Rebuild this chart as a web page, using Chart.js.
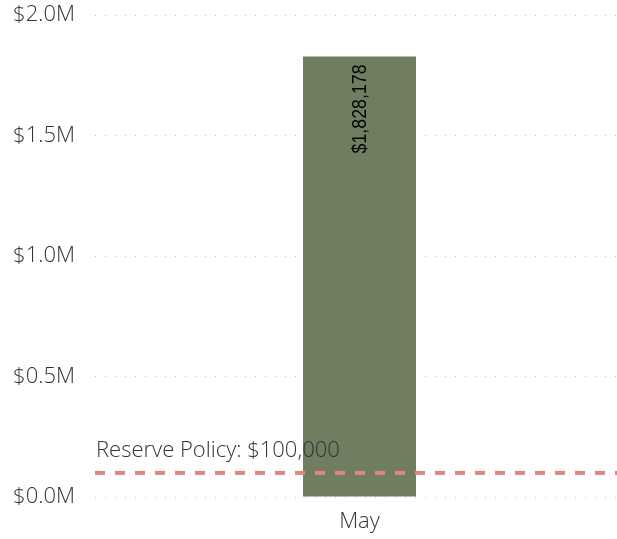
<!DOCTYPE html>
<html>
<head>
<meta charset="utf-8">
<script src="https://cdn.jsdelivr.net/npm/chart.js@4.4.0/dist/chart.umd.min.js"></script>
<style>
  html, body { margin: 0; padding: 0; background: #fff; }
  #wrap { width: 617px; height: 539px; }
</style>
</head>
<body>
<div id="wrap"><canvas id="barChart" width="617" height="539"></canvas></div>
<script>
// chart data
const months = ['May'];
const balances = [1828178];
const reservePolicy = 100000;
const yTicks = [0, 500000, 1000000, 1500000, 2000000];

const uiFont = "'Open Sans', 'Noto Sans', sans-serif";

// plot area runs a little past the right edge of the canvas in the original
const widenPlugin = {
    id: 'widen',
    afterLayout(chart) {
        const extra = 7;
        const x = chart.scales.x;
        x.right += extra;
        x.width += extra;
        x.configure();
        chart.chartArea.right += extra;
        chart.chartArea.width += extra;
    }
};

// draws the reserve line, its label and the value labels on the bars
const overlayPlugin = {
    id: 'overlay',
    afterDatasetsDraw(chart) {
        const ctx = chart.ctx;
        const area = chart.chartArea;
        const y = chart.scales.y.getPixelForValue(reservePolicy);

        ctx.save();
        ctx.strokeStyle = '#df877d';
        ctx.lineWidth = 4;
        ctx.setLineDash([10, 10]);
        ctx.beginPath();
        ctx.moveTo(area.left, y);
        ctx.lineTo(chart.width, y);
        ctx.stroke();
        ctx.setLineDash([]);

        ctx.fillStyle = '#333';
        ctx.font = '300 22px ' + uiFont;
        ctx.textAlign = 'left';
        ctx.textBaseline = 'alphabetic';
        ctx.fillText('Reserve Policy: $' + reservePolicy.toLocaleString('en-US'), area.left + 1, y - 16);

        const meta = chart.getDatasetMeta(0);
        meta.data.forEach((bar, i) => {
            ctx.save();
            ctx.translate(bar.x + 1, bar.y + 8);
            ctx.rotate(-Math.PI / 2);
            ctx.scale(0.89, 1); // condensed look of the original label
            ctx.fillStyle = '#000';
            ctx.font = "20px 'Liberation Sans', Arial, sans-serif";
            ctx.textAlign = 'right';
            ctx.textBaseline = 'middle';
            ctx.fillText('$' + balances[i].toLocaleString('en-US'), 0, 0);
            ctx.restore();
        });
        ctx.restore();
    }
};

const config = {
    type: 'bar',
    data: {
        labels: months,
        datasets: [{
            label: 'Balance',
            data: balances,
            backgroundColor: '#6f7d61',
            barPercentage: 0.2136,
            categoryPercentage: 1
        }]
    },
    options: {
        responsive: false,
        animation: false,
        layout: { padding: { top: 15, right: 0, left: 0, bottom: 0 } },
        plugins: {
            legend: { display: false },
            tooltip: { enabled: false }
        },
        scales: {
            x: {
                grid: { display: false, drawTicks: false },
                border: { display: false },
                ticks: {
                    color: '#333',
                    font: { family: uiFont, size: 22, weight: 300 },
                    padding: 12
                },
                afterFit(scale) { scale.height = 42; }
            },
            y: {
                min: 0,
                max: 2000000,
                afterBuildTicks(scale) {
                    scale.ticks = yTicks.map(v => ({ value: v }));
                },
                grid: { color: '#c0c0c0', lineWidth: 1, drawTicks: false },
                border: { display: false, dash: [1, 9] },
                ticks: {
                    color: '#333',
                    font: { family: uiFont, size: 22, weight: 300 },
                    padding: 20,
                    callback: v => '$' + (v / 1000000).toFixed(1) + 'M'
                },
                afterFit(scale) {
                    scale.width = 95;
                    scale.paddingTop = 0;
                    scale.paddingBottom = 0;
                }
            }
        }
    },
    plugins: [widenPlugin, overlayPlugin]
};

const balanceChart = new Chart(document.getElementById('barChart'), config);
</script>
</body>
</html>
